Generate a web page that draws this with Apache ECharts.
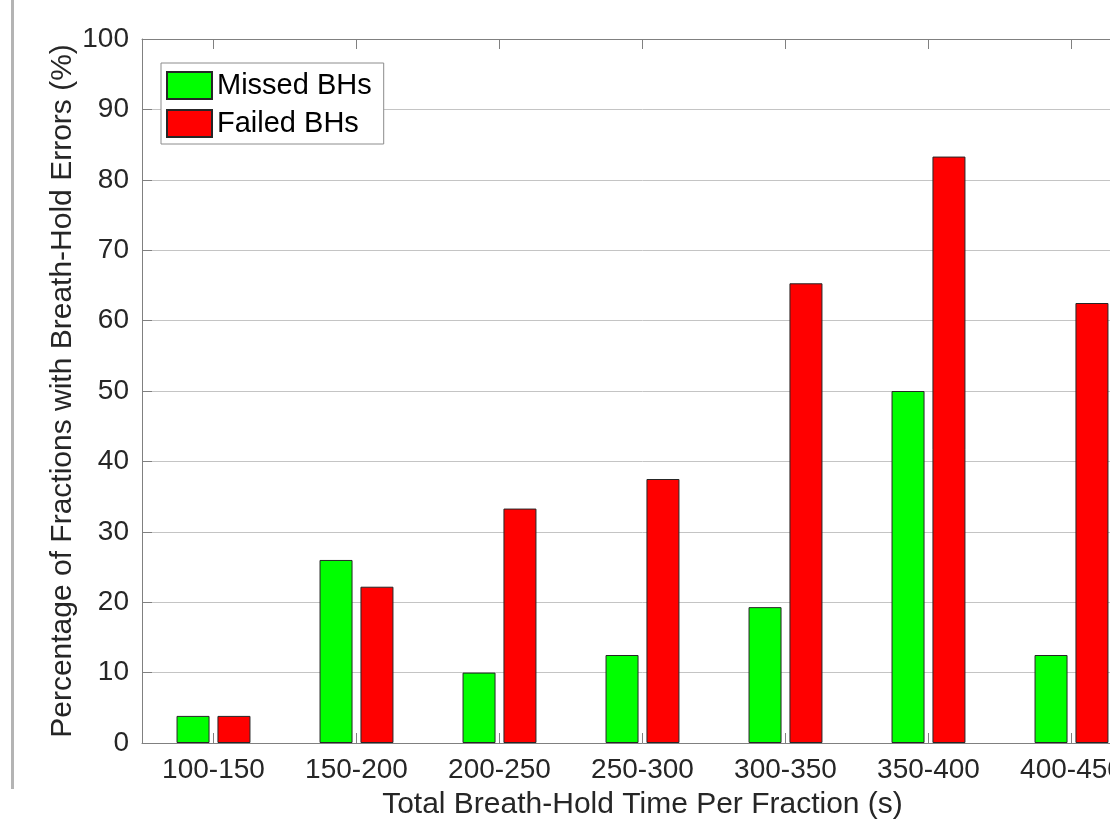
<!DOCTYPE html>
<html>
<head>
<meta charset="utf-8">
<script src="https://cdn.jsdelivr.net/npm/echarts@6/dist/echarts.min.js"></script>
<style>
html, body { margin: 0; padding: 0; background: #fff; overflow: hidden; }
#chart { width: 1160px; height: 819px; }
</style>
</head>
<body>
<div id="chart"></div>
<script>
var categories = ['100-150', '150-200', '200-250', '250-300', '300-350', '350-400', '400-450'];
var missedBHs = [3.85, 26.0, 10.0, 12.5, 19.3, 50.0, 12.5];
var failedBHs = [3.85, 22.2, 33.3, 37.5, 65.3, 83.3, 62.5];
var yTicks = { min: 0, max: 100, step: 10 };

var font = "'Liberation Sans', Arial, Helvetica, sans-serif";
var axisGray = '#808080';

var myChart = echarts.init(document.getElementById('chart'));
var option = {
    animation: false,
    backgroundColor: '#fff',
    textStyle: { fontFamily: font },
    graphic: [{
        type: 'rect',
        shape: { x: 11, y: 0, width: 3, height: 789 },
        style: { fill: '#b4b4b4' }
    }],
    legend: {
        orient: 'vertical',
        left: 161,
        top: 63,
        padding: [8, 12, 6, 5],
        icon: 'rect',
        itemWidth: 45,
        itemHeight: 27,
        itemGap: 9,
        borderColor: '#8c8c8c',
        borderWidth: 1,
        backgroundColor: '#fff',
        textStyle: { fontSize: 29, color: '#000', fontFamily: font, lineHeight: 27 },
        data: ['Missed BHs', 'Failed BHs']
    },
    grid: { left: 142, top: 39, width: 1001, height: 704, outerBoundsMode: 'none', containLabel: false },
    xAxis: [
        {
            type: 'category',
            data: categories,
            name: 'Total Breath-Hold Time Per Fraction (s)',
            nameLocation: 'middle',
            nameGap: 47,
            nameMoveOverlap: false,
            nameTextStyle: { fontSize: 30, color: '#262626', fontFamily: font },
            axisLine: { lineStyle: { color: axisGray, width: 1 } },
            axisTick: { show: true, inside: true, alignWithLabel: true, length: 10, lineStyle: { color: axisGray } },
            axisLabel: { fontSize: 28, color: '#262626', margin: 13, fontFamily: font },
            splitLine: { show: false }
        },
        {
            type: 'category',
            position: 'top',
            data: categories,
            axisLine: { lineStyle: { color: axisGray, width: 1 } },
            axisTick: { show: true, inside: true, alignWithLabel: true, length: 10, lineStyle: { color: axisGray } },
            axisLabel: { show: false },
            splitLine: { show: false }
        }
    ],
    yAxis: {
        type: 'value',
        min: yTicks.min,
        max: yTicks.max,
        interval: yTicks.step,
        name: 'Percentage of Fractions with Breath-Hold Errors (%)',
        nameLocation: 'middle',
        nameGap: 64,
        nameMoveOverlap: false,
        nameTextStyle: { fontSize: 30, color: '#262626', fontFamily: font },
        axisLine: { show: true, lineStyle: { color: axisGray, width: 1 } },
        axisTick: { show: true, inside: true, length: 10, lineStyle: { color: axisGray } },
        axisLabel: { fontSize: 28, color: '#262626', margin: 13, fontFamily: font },
        splitLine: { show: true, lineStyle: { color: '#c4c4c4', width: 1 } }
    },
    series: [
        {
            name: 'Missed BHs',
            type: 'bar',
            data: missedBHs,
            barWidth: 33,
            barGap: '24%',
            itemStyle: { color: '#00ff00', borderColor: '#262626', borderWidth: 1 }
        },
        {
            name: 'Failed BHs',
            type: 'bar',
            data: failedBHs,
            barWidth: 33,
            barGap: '24%',
            itemStyle: { color: '#ff0000', borderColor: '#262626', borderWidth: 1 }
        }
    ]
};
myChart.setOption(option);
</script>
</body>
</html>
